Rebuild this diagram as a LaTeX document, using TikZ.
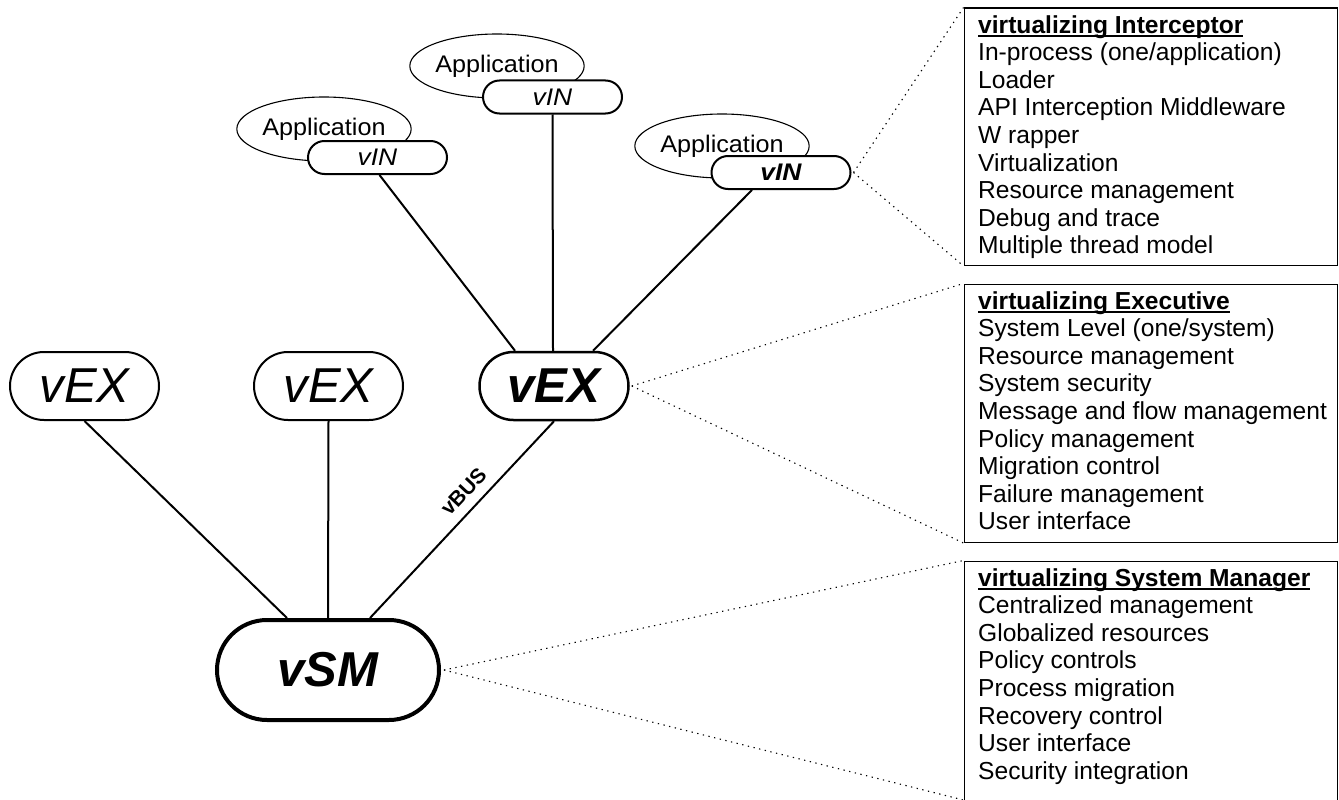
\documentclass[tikz,border=0pt]{standalone}
\usepackage{fontspec}
\setmainfont{Liberation Sans}
\usepackage{graphicx}
\usetikzlibrary{shapes.geometric,shapes.misc,calc}
\newcommand{\ulhead}[1]{\setbox0\hbox{\bfseries #1}\rlap{\rule[-3.5pt]{\wd0}{1.8pt}}\box0}
\newcommand{\appword}{\scalebox{1.05}[1]{Application}}
\tikzset{
  pill/.style={rounded rectangle, draw, fill=white, inner sep=0pt, line width=2pt},
  vexnode/.style={pill, minimum width=149pt, minimum height=68pt, font=\fontsize{49}{52}\selectfont\itshape},
  vinnode/.style={pill, minimum width=139pt, minimum height=33pt, font=\fontsize{24}{26}\selectfont\itshape},
  appnode/.style={ellipse, draw, line width=1.1pt, inner sep=0pt, minimum width=168pt, minimum height=64pt, font=\fontsize{24}{26}\selectfont},
  conn/.style={line width=2pt},
  dotline/.style={line width=1.1pt, dash pattern=on 1.3pt off 4.5pt},
  infobox/.style={draw, line width=1.5pt, inner sep=0pt, anchor=north west, minimum width=373pt},
  infotext/.style={inner sep=0pt, anchor=north west, align=left, font=\fontsize{24.6}{27.6}\selectfont}
}
\begin{document}
\begin{tikzpicture}[x=1pt,y=-1pt]
\useasboundingbox (0,0) rectangle (1339,800);

% applications (ellipses behind vIN boxes)
\node[appnode] (e1) at (324,129) {\appword};
\node[appnode] (e2) at (497,66) {\appword};
\node[appnode] (e3) at (722,146) {\appword};

\node[vinnode] (vin1) at (377.5,157.5) {\scalebox{1.1}[1]{vIN}};
\node[vinnode] (vin2) at (552.5,97) {\scalebox{1.1}[1]{vIN}};
\node[vinnode, font=\fontsize{24}{26}\selectfont\bfseries\itshape] (vin3) at (781,172.5) {\scalebox{1.1}[1]{vIN}};

% executives and manager
\node[vexnode] (vex1) at (84.5,386) {vEX};
\node[vexnode] (vex2) at (328.5,386) {vEX};
\node[vexnode, line width=2.5pt, font=\fontsize{49}{52}\selectfont\bfseries\itshape] (vexb) at (554,386) {vEX};
\node[pill, line width=4pt, minimum width=222pt, minimum height=100pt, font=\fontsize{49}{52}\selectfont\bfseries\itshape] (vsm) at (328,670) {vSM};

% connectors
\draw[conn] ([xshift=2pt]vin1.south) -- ([xshift=-39pt]vexb.north);
\draw[conn] (vin2.south) -- ([xshift=-1pt]vexb.north);
\draw[conn] ([xshift=-29pt]vin3.south) -- ([xshift=39pt]vexb.north);
\draw[conn] (vex1.south) -- ([xshift=-41pt]vsm.north);
\draw[conn] (vex2.south) -- (vsm.north);
\draw[conn] (vexb.south) -- ([xshift=42pt]vsm.north) node[pos=0.42, sloped, above=18pt, anchor=center, font=\fontsize{21}{23}\selectfont\bfseries] (vbus) {vBUS};

% info boxes
\node[infobox, minimum height=257pt] (box1) at (963.5,7.5) {};
\node[infobox, minimum height=258pt] (box2) at (963.5,283.5) {};
\node[infobox, minimum height=245pt] (box3) at (963.5,560.5) {};

\node[infotext] (t1) at ($(box1.north west)+(14.5,7.5)$) {\ulhead{virtualizing Interceptor}\\
In-process (one/application)\\
Loader\\
API Interception Middleware\\
W rapper\\
Virtualization\\
Resource management\\
Debug and trace\\
Multiple thread model};

\node[infotext] (t2) at ($(box2.north west)+(14.5,7.5)$) {\ulhead{virtualizing Executive}\\
System Level (one/system)\\
Resource management\\
System security\\
Message and flow management\\
Policy management\\
Migration control\\
Failure management\\
User interface};

\node[infotext] (t3) at ($(box3.north west)+(14.5,7.5)$) {\ulhead{virtualizing System Manager}\\
Centralized management\\
Globalized resources\\
Policy controls\\
Process migration\\
Recovery control\\
User interface\\
Security integration};

% dotted callouts
\draw[dotline] ([xshift=2pt]vin3.east) -- (box1.north west);
\draw[dotline] ([xshift=2pt]vin3.east) -- (box1.south west);
\draw[dotline] ([xshift=2pt]vexb.east) -- (box2.north west);
\draw[dotline] ([xshift=2pt]vexb.east) -- (box2.south west);
\draw[dotline] ([xshift=3pt]vsm.east) -- (box3.north west);
\draw[dotline] ([xshift=3pt]vsm.east) -- (963.5,800);
\end{tikzpicture}
\end{document}
